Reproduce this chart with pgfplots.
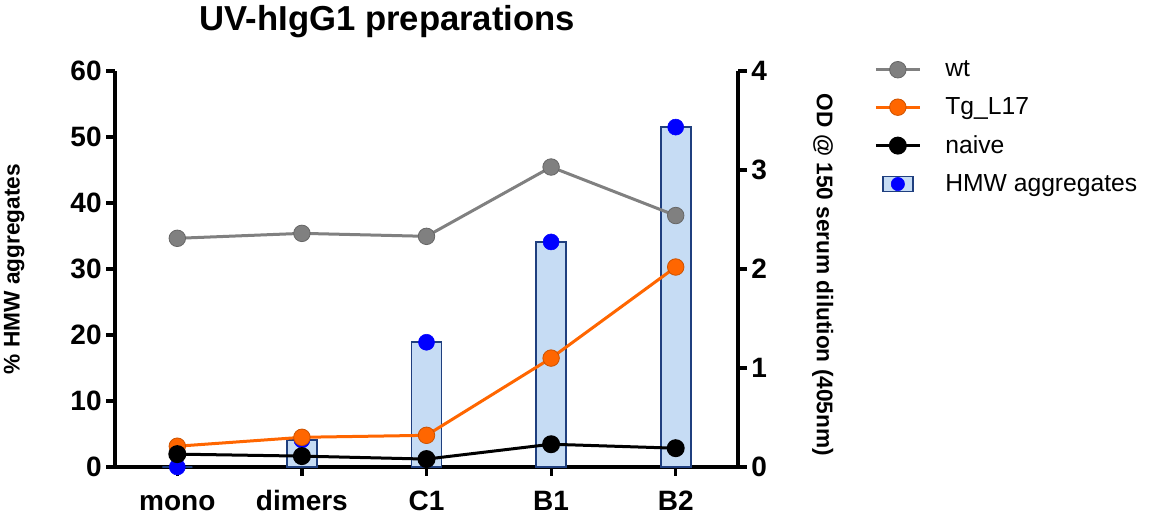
\documentclass[border=0pt]{standalone}
\usepackage{fontspec}
\setmainfont{Liberation Sans}
\usepackage{pgfplots}
\pgfplotsset{compat=1.18}
\definecolor{barfill}{HTML}{C6DCF4}
\definecolor{bardraw}{HTML}{1F3F7F}
\definecolor{wtgray}{HTML}{808080}
\definecolor{tgorange}{HTML}{FF6600}
\begin{document}
\begin{tikzpicture}
\path[use as bounding box] (-86.25pt,-37.5pt) rectangle (780pt,350.25pt);
\pgfplotsset{
  common/.style={
    scale only axis, width=467.25pt, height=297pt,
    xmin=-0.5, xmax=4.5, clip=false,
    axis line style={line width=2.4pt},
    major tick style={line width=2.4pt, black},
    major tick length=6.5pt, tick align=outside,
    /pgf/number format/assume math mode=true,
    tick label style={font=\bfseries\fontsize{21}{21}\selectfont},
    label style={font=\bfseries\fontsize{17}{17}\selectfont},
  }
}
\begin{axis}[common,
  at={(0,0)}, anchor=south west,
  axis x line*=bottom, axis y line*=left,
  ymin=0, ymax=60, ytick={0,10,20,30,40,50,60},
  xtick={0,1,2,3,4}, xticklabels={mono,dimers,C1,B1,B2},
  xticklabel style={text height=15.5pt, text depth=4.5pt, yshift=-7pt},
  ylabel={\% HMW aggregates},
  ylabel style={at={(axis description cs:-0.162,0.5)}, anchor=center},
  title={UV-hIgG1 preparations},
  title style={at={(axis description cs:0.437,1.105)}, anchor=center, font=\bfseries\fontsize{26}{26}\selectfont},
]
\addplot[ybar, bar width=22.5pt, fill=barfill, draw=bardraw, line width=1.2pt]
  coordinates {(0,0) (1,4.1) (2,18.9) (3,34.1) (4,51.5)};
\addplot[only marks, mark=*, mark size=6pt, color=blue, mark options={fill=blue, draw=blue}]
  coordinates {(0,0) (1,4.1) (2,18.9) (3,34.1) (4,51.5)};
\end{axis}
\begin{axis}[common,
  at={(0,0)}, anchor=south west,
  axis x line=none, axis y line*=right,
  ymin=0, ymax=4, ytick={0,1,2,3,4},
  ylabel={OD @ 150 serum dilution (405nm)},
  ylabel style={rotate=180, at={(axis description cs:1.136,0.485)}, anchor=center},
  legend cell align=left,
  legend style={at={(axis description cs:1.212,1.040)}, anchor=north west, draw=none, fill=none,
    font=\fontsize{18.5}{18.5}\selectfont, row sep=10.25pt,
    /tikz/every odd column/.append style={column sep=16pt}},
  legend image code/.code={\draw[mark repeat=2,mark phase=2] plot coordinates {(0pt,0pt) (16.5pt,0pt) (33pt,0pt)};},
]
\addplot[wtgray, line width=2.25pt, mark=*, mark size=6.2pt, mark options={fill=wtgray, draw=gray!80!black, line width=0.6pt}]
  coordinates {(0,2.31) (1,2.36) (2,2.33) (3,3.03) (4,2.54)};
\addlegendentry{wt}
\addplot[tgorange, line width=2.25pt, mark=*, mark size=6.2pt, mark options={fill=tgorange, draw=tgorange!80!black, line width=0.6pt}]
  coordinates {(0,0.21) (1,0.30) (2,0.32) (3,1.10) (4,2.02)};
\addlegendentry{Tg\_L17}
\addplot[black, line width=2.25pt, mark=*, mark size=5.6pt, mark options={fill=black}]
  coordinates {(0,0.13) (1,0.11) (2,0.08) (3,0.23) (4,0.19)};
\addlegendentry{naive}
\addlegendimage{legend image code/.code={\draw[fill=barfill, draw=bardraw, line width=1.2pt] (5.25pt,-5.6pt) rectangle (27.75pt,5.6pt); \fill[blue] (16.5pt,0pt) circle (5pt);}}
\addlegendentry{HMW aggregates}
\end{axis}
\end{tikzpicture}
\end{document}
